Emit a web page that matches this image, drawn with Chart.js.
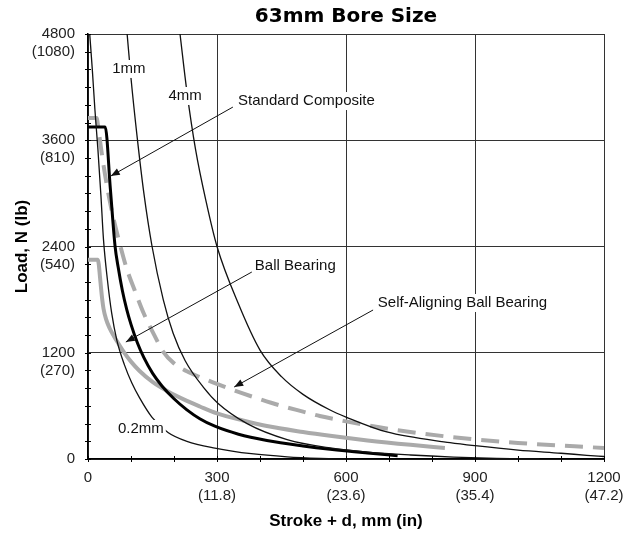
<!DOCTYPE html>
<html>
<head>
<meta charset="utf-8">
<script src="https://cdn.jsdelivr.net/npm/chart.js@4.4.1/dist/chart.umd.min.js"></script>
<style>
  html, body { margin: 0; padding: 0; background: #fff; }
  #wrap { width: 638px; height: 535px; position: relative; }
</style>
</head>
<body>
<div id="wrap"><canvas id="loadChart"></canvas></div>
<script>
// 63mm bore: allowable load vs stroke
const chartTitle = '63mm Bore Size';
const xTitle = 'Stroke + d, mm (in)';
const yTitle = 'Load, N (lb)';

// tick labels (mm / in, N / lb)
const xMajorTicks = [0, 300, 600, 900, 1200];
const xInchLabels = ['', '(11.8)', '(23.6)', '(35.4)', '(47.2)'];
const yMajorTicks = [0, 1200, 2400, 3600, 4800];
const yLbLabels = ['', '(270)', '(540)', '(810)', '(1080)'];

// Standard Composite
const stdX = [0, 40, 52, 63, 70, 80, 90, 100, 115, 130, 150, 172, 200, 230, 260, 295, 350, 416, 500, 563, 650, 720];
const stdY = [3750, 3750, 3050, 2400, 2170, 1900, 1690, 1520, 1310, 1145, 970, 825, 680, 555, 455, 370, 280, 210, 148, 110, 68, 38];

// Ball Bearing
const ballX = [0, 23, 25, 28, 32, 36, 42, 50, 60, 70, 85, 100, 120, 150, 186, 230, 260, 300, 360, 416, 500, 563, 650, 750, 830];
const ballY = [2250, 2250, 2200, 2050, 1850, 1700, 1580, 1480, 1390, 1310, 1196, 1100, 994, 870, 762, 656, 593, 515, 435, 372, 305, 262, 210, 160, 125];

// Self-Aligning Ball Bearing
const selfX = [0, 20, 25, 30, 40, 50, 60, 74, 90, 109, 130, 160, 172, 200, 230, 260, 295, 337, 400, 450, 500, 539, 600, 700, 842, 1000, 1200];
const selfY = [3850, 3850, 3700, 3520, 3200, 2930, 2700, 2430, 2150, 1900, 1640, 1343, 1231, 1080, 990, 926, 858, 779, 676, 600, 535, 485, 425, 340, 250, 182, 124];

// deflection curves
const d02X = [4, 10, 16, 23, 30, 36, 45, 55, 67, 85, 102, 120, 149, 186, 230, 295, 380, 463, 540, 610];
const d02Y = [4800, 4400, 3950, 3500, 2980, 2480, 2030, 1650, 1343, 1060, 858, 690, 470, 300, 200, 124, 60, 25, 8, 0];

const d1X = [91, 100, 114, 130, 149, 175, 198, 226, 270, 302, 370, 463, 563, 650, 750, 850, 950, 1050];
const d1Y = [4800, 4300, 3650, 3000, 2400, 1800, 1420, 1110, 800, 630, 400, 220, 125, 78, 45, 22, 8, 0];

const d4X = [214, 230, 250, 275, 300, 350, 400, 450, 500, 563, 600, 695, 842, 900, 1000, 1100, 1160, 1200];
const d4Y = [4800, 4150, 3500, 2900, 2400, 1750, 1230, 930, 730, 553, 474, 305, 185, 150, 100, 65, 42, 28];

// curve labels and arrow callouts (data coordinates)
const curveLabels = [
  { text: '1mm',   x: 95,  y: 4405 },
  { text: '4mm',   x: 226, y: 4100 },
  { text: '0.2mm', x: 123, y: 339 }
];
const callouts = [
  { text: 'Standard Composite',         tx: 349, ty: 4043, fromX: 337, fromY: 3975, toX: 53,  toY: 3196 },
  { text: 'Ball Bearing',               tx: 388, ty: 2180, fromX: 381, fromY: 2112, toX: 88,  toY: 1321 },
  { text: 'Self-Aligning Ball Bearing', tx: 674, ty: 1762, fromX: 663, fromY: 1683, toX: 340, toY: 813 }
];

function toPoints(xs, ys) {
  return xs.map((v, i) => ({ x: v, y: ys[i] }));
}

const FONT = '"Liberation Sans", Arial, sans-serif';

const extrasPlugin = {
  id: 'extras',
  afterDraw(chart) {
    const { ctx, chartArea: area, scales: { x, y } } = chart;
    ctx.save();

    // 小刻度，穿过坐标轴
    ctx.strokeStyle = '#000';
    ctx.lineWidth = 1;
    x.ticks.forEach(t => {
      const px = Math.round(x.getPixelForValue(t.value)) + 0.5;
      ctx.beginPath();
      ctx.moveTo(px, area.bottom - 3);
      ctx.lineTo(px, area.bottom + 3);
      ctx.stroke();
    });
    y.ticks.forEach(t => {
      const py = Math.round(y.getPixelForValue(t.value)) + 0.5;
      ctx.beginPath();
      ctx.moveTo(area.left - 3, py);
      ctx.lineTo(area.left + 3, py);
      ctx.stroke();
    });

    // title centred over the plot area
    ctx.fillStyle = '#000';
    ctx.font = 'bold 20px "DejaVu Sans", sans-serif';
    ctx.textAlign = 'center';
    ctx.textBaseline = 'middle';
    ctx.fillText(chartTitle, (area.left + area.right) / 2, 17);

    // curve labels on white boxes
    ctx.font = '15px ' + FONT;
    curveLabels.forEach(l => {
      const px = x.getPixelForValue(l.x);
      const py = y.getPixelForValue(l.y);
      const w = ctx.measureText(l.text).width;
      ctx.fillStyle = '#fff';
      ctx.fillRect(px - w / 2 - 2, py - 9, w + 4, 18);
      ctx.fillStyle = '#111';
      ctx.fillText(l.text, px, py);
    });

    // arrow callouts
    ctx.textAlign = 'left';
    callouts.forEach(c => {
      const x0 = x.getPixelForValue(c.fromX), y0 = y.getPixelForValue(c.fromY);
      const x1 = x.getPixelForValue(c.toX), y1 = y.getPixelForValue(c.toY);
      ctx.strokeStyle = '#111';
      ctx.lineWidth = 1;
      ctx.beginPath();
      ctx.moveTo(x0, y0);
      ctx.lineTo(x1, y1);
      ctx.stroke();
      const a = Math.atan2(y1 - y0, x1 - x0);
      ctx.fillStyle = '#111';
      ctx.beginPath();
      ctx.moveTo(x1, y1);
      ctx.lineTo(x1 - 9 * Math.cos(a) + 3.5 * Math.sin(a), y1 - 9 * Math.sin(a) - 3.5 * Math.cos(a));
      ctx.lineTo(x1 - 9 * Math.cos(a) - 3.5 * Math.sin(a), y1 - 9 * Math.sin(a) + 3.5 * Math.cos(a));
      ctx.closePath();
      ctx.fill();

      const tx = x.getPixelForValue(c.tx), ty = y.getPixelForValue(c.ty);
      const w = ctx.measureText(c.text).width;
      ctx.fillStyle = '#fff';
      ctx.fillRect(tx - 2, ty - 9, w + 4, 18);
      ctx.fillStyle = '#111';
      ctx.fillText(c.text, tx, ty);
    });
    ctx.restore();
  }
};

const thin = { borderColor: '#111', borderWidth: 1.3 };

new Chart(document.getElementById('loadChart'), {
  type: 'line',
  data: {
    datasets: [
      { label: '0.2mm', data: toPoints(d02X, d02Y), ...thin },
      { label: '1mm', data: toPoints(d1X, d1Y), ...thin },
      { label: '4mm', data: toPoints(d4X, d4Y), ...thin },
      { label: 'Standard Composite', data: toPoints(stdX, stdY), borderColor: '#000', borderWidth: 3 },
      { label: 'Ball Bearing', data: toPoints(ballX, ballY), borderColor: '#aaaaaa', borderWidth: 4 },
      { label: 'Self-Aligning Ball Bearing', data: toPoints(selfX, selfY), borderColor: '#aaaaaa', borderWidth: 4, borderDash: [18, 10] }
    ]
  },
  options: {
    responsive: true,
    maintainAspectRatio: false,
    animation: false,
    layout: { padding: { top: 34, right: 34, bottom: 0, left: 0 } },
    elements: {
      point: { radius: 0 },
      line: { cubicInterpolationMode: 'monotone', fill: false }
    },
    plugins: {
      legend: { display: false },
      tooltip: { enabled: false },
      title: { display: false }
    },
    scales: {
      x: {
        type: 'linear',
        min: 0,
        max: 1200,
        afterBuildTicks: scale => {
          const t = [];
          for (let v = 0; v <= 1200; v += 100) t.push({ value: v });
          scale.ticks = t;
        },
        afterFit: scale => {
          scale.height = 76;
          scale.paddingLeft = 0;
          scale.paddingRight = 0;
        },
        ticks: {
          autoSkip: false,
          maxRotation: 0,
          padding: 9,
          color: '#222',
          font: { family: FONT, size: 15, lineHeight: 1.25 },
          callback: value => {
            const i = xMajorTicks.indexOf(value);
            if (i < 0) return '';
            return i === 0 ? '0' : [String(value), xInchLabels[i]];
          }
        },
        grid: {
          drawTicks: false,
          color: ctx => (ctx.tick && ctx.tick.value % 300 === 0) ? '#333' : 'rgba(0,0,0,0)',
          lineWidth: 1
        },
        border: { color: '#000', width: 1.5 },
        title: {
          display: true,
          text: xTitle,
          color: '#000',
          font: { family: FONT, size: 17, weight: 'bold', lineHeight: 1.2 },
          padding: { top: 0, bottom: 3 }
        }
      },
      y: {
        type: 'linear',
        min: 0,
        max: 4800,
        afterBuildTicks: scale => {
          const t = [];
          for (let v = 0; v <= 4800; v += 200) t.push({ value: v });
          scale.ticks = t;
        },
        afterFit: scale => {
          scale.width = 88;
          scale.paddingTop = 0;
          scale.paddingBottom = 0;
        },
        ticks: {
          autoSkip: false,
          padding: 13,
          color: '#222',
          font: { family: FONT, size: 15, lineHeight: 1.2 },
          callback: value => {
            const i = yMajorTicks.indexOf(value);
            if (i < 0) return '';
            return i === 0 ? '0' : ['', String(value), yLbLabels[i]];
          }
        },
        grid: {
          drawTicks: false,
          color: ctx => (ctx.tick && ctx.tick.value % 1200 === 0) ? '#333' : 'rgba(0,0,0,0)',
          lineWidth: 1
        },
        border: { color: '#000', width: 1.5 },
        title: {
          display: true,
          text: yTitle,
          color: '#000',
          font: { family: FONT, size: 17, weight: 'bold', lineHeight: 1.2 },
          padding: { top: 12, bottom: 0 }
        }
      }
    }
  },
  plugins: [extrasPlugin]
});
</script>
</body>
</html>
